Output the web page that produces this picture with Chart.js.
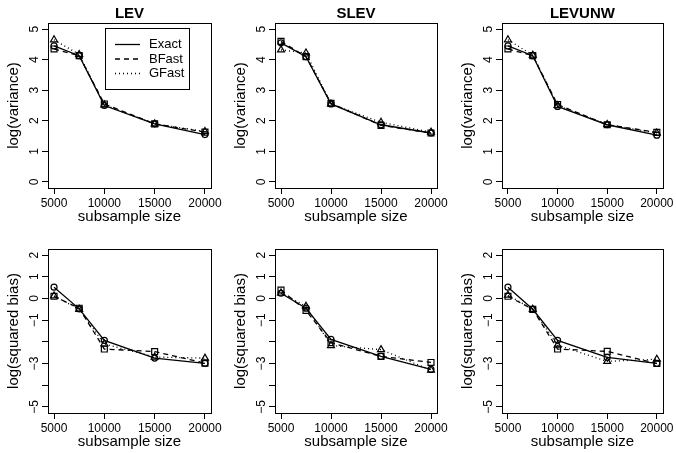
<!DOCTYPE html>
<html>
<head>
<meta charset="utf-8">
<script src="https://cdn.jsdelivr.net/npm/chart.js@4.4.1/dist/chart.umd.min.js"></script>
<style>
  html, body { margin: 0; padding: 0; background: #fff; }
  #wrap { position: relative; width: 676px; height: 453px; background: #fff; }
  #wrap canvas { position: absolute; left: 0; top: 0; }
</style>
</head>
<body>
<div id="wrap"></div>
<script>
// subsample sizes (x) and axis ticks
const sizes = [5000, 7500, 10000, 15000, 20000];
const xTicks = [5000, 10000, 15000, 20000];
const varTicks = [0, 1, 2, 3, 4, 5];
const varTickLabels = ['0', '1', '2', '3', '4', '5'];
const biasTicks = [-5, -4, -3, -2, -1, 0, 1, 2];
const biasTickLabels = ['\u22125', '', '\u22123', '', '\u22121', '0', '1', '2'];

const seriesNames = ['Exact', 'BFast', 'GFast'];

// log(variance)
const levVarExact = [4.45, 4.13, 2.50, 1.90, 1.55];
const levVarBFast = [4.35, 4.13, 2.55, 1.90, 1.63];
const levVarGFast = [4.65, 4.17, 2.52, 1.90, 1.65];

const slevVarExact = [4.55, 4.10, 2.55, 1.87, 1.60];
const slevVarBFast = [4.60, 4.10, 2.57, 1.85, 1.60];
const slevVarGFast = [4.32, 4.22, 2.55, 1.95, 1.63];

const levunwVarExact = [4.45, 4.13, 2.47, 1.87, 1.53];
const levunwVarBFast = [4.35, 4.13, 2.53, 1.87, 1.62];
const levunwVarGFast = [4.65, 4.15, 2.50, 1.88, 1.60];

// log(squared bias)
const levBiasExact = [0.52, -0.48, -1.93, -2.75, -2.99];
const levBiasBFast = [0.10, -0.45, -2.33, -2.45, -2.98];
const levBiasGFast = [0.12, -0.50, -2.10, -2.70, -2.75];

const slevBiasExact = [0.24, -0.45, -1.89, -2.67, -3.27];
const slevBiasBFast = [0.39, -0.55, -2.04, -2.67, -2.95];
const slevBiasGFast = [0.25, -0.36, -2.17, -2.36, -3.30];

const levunwBiasExact = [0.52, -0.50, -1.93, -2.72, -2.99];
const levunwBiasBFast = [0.10, -0.50, -2.33, -2.44, -3.00];
const levunwBiasGFast = [0.15, -0.50, -2.15, -2.90, -2.80];

const FONT = '"Liberation Sans", Arial, Helvetica, sans-serif';
const W = 676, H = 453;
const X_AXIS_H = 24;

// plot box edges (page pixels)
const colLeft = [48, 275, 502];
const colRight = [211, 437, 663];
const rowTop = [23, 249];
const rowBottom = [188, 413];

const lineStyles = [
  { dash: [], point: 'circle', radius: 3 },
  { dash: [5, 4], point: 'rect', radius: 4.2 },
  { dash: [1, 3], point: 'triangle', radius: 4 }
];

const panels = [
  { row: 0, col: 0, title: 'LEV', ylab: 'log(variance)', series: [levVarExact, levVarBFast, levVarGFast], legend: true },
  { row: 0, col: 1, title: 'SLEV', ylab: 'log(variance)', series: [slevVarExact, slevVarBFast, slevVarGFast] },
  { row: 0, col: 2, title: 'LEVUNW', ylab: 'log(variance)', series: [levunwVarExact, levunwVarBFast, levunwVarGFast] },
  { row: 1, col: 0, title: '', ylab: 'log(squared bias)', series: [levBiasExact, levBiasBFast, levBiasGFast] },
  { row: 1, col: 1, title: '', ylab: 'log(squared bias)', series: [slevBiasExact, slevBiasBFast, slevBiasGFast] },
  { row: 1, col: 2, title: '', ylab: 'log(squared bias)', series: [levunwBiasExact, levunwBiasBFast, levunwBiasGFast] }
];

// draws the R-style box, titles, rotated y labels and legend
const rPanel = {
  id: 'rPanel',
  afterDraw(chart, args, opts) {
    const ctx = chart.ctx;
    const a = chart.chartArea;
    const yScale = chart.scales.y;
    ctx.save();
    ctx.strokeStyle = '#000';
    ctx.fillStyle = '#000';
    ctx.lineWidth = 1;
    ctx.setLineDash([]);
    ctx.strokeRect(Math.round(a.left) + 0.5, Math.round(a.top) + 0.5,
      Math.round(a.right - a.left), Math.round(a.bottom - a.top));

    // y tick labels, parallel to the axis
    ctx.font = '12px ' + FONT;
    ctx.textAlign = 'center';
    ctx.textBaseline = 'middle';
    yScale.ticks.forEach((t, i) => {
      const py = yScale.getPixelForValue(t.value);
      ctx.save();
      ctx.translate(a.left - 13, py);
      ctx.rotate(-Math.PI / 2);
      ctx.fillText(opts.yLabels[i], 0, 0);
      ctx.restore();
    });

    // axis titles
    ctx.font = '15px ' + FONT;
    ctx.fillText('subsample size', (a.left + a.right) / 2, a.bottom + 29);
    ctx.save();
    ctx.translate(a.left - 34, (a.top + a.bottom) / 2);
    ctx.rotate(-Math.PI / 2);
    ctx.fillText(opts.ylab, 0, 0);
    ctx.restore();

    if (opts.title) {
      ctx.font = 'bold 15px ' + FONT;
      ctx.textBaseline = 'alphabetic';
      ctx.fillText(opts.title, (a.left + a.right) / 2, a.top - 5);
    }

    if (opts.legend) {
      ctx.strokeRect(105.5, 28.5, 84, 61);
      ctx.font = '13px ' + FONT;
      ctx.textAlign = 'left';
      ctx.textBaseline = 'middle';
      ctx.lineWidth = 1.3;
      const rows = [44.5, 59, 73.5];
      seriesNames.forEach((name, i) => {
        ctx.setLineDash(lineStyles[i].dash);
        ctx.beginPath();
        ctx.moveTo(115, rows[i]);
        ctx.lineTo(140, rows[i]);
        ctx.stroke();
        ctx.fillText(name, 149, rows[i]);
      });
    }
    ctx.restore();
  }
};

function makeDatasets(series) {
  return series.map((vals, i) => ({
    label: seriesNames[i],
    data: sizes.map((x, j) => ({ x: x, y: vals[j] })),
    borderColor: '#000',
    borderWidth: 1.3,
    borderDash: lineStyles[i].dash,
    tension: 0,
    fill: false,
    pointStyle: lineStyles[i].point,
    pointRadius: lineStyles[i].radius,
    pointBorderColor: '#000',
    pointBackgroundColor: 'rgba(0,0,0,0)',
    pointBorderWidth: 1.2
  }));
}

document.addEventListener('DOMContentLoaded', () => {
  const wrap = document.getElementById('wrap');

  panels.forEach(p => {
    const canvas = document.createElement('canvas');
    canvas.width = W;
    canvas.height = H;
    canvas.style.width = W + 'px';
    canvas.style.height = H + 'px';
    wrap.appendChild(canvas);

    const isVar = p.row === 0;
    const yTicks = isVar ? varTicks : biasTicks;
    const yMin = yTicks[0], yMax = yTicks[yTicks.length - 1];
    const yPad = (yMax - yMin) * 0.04;
    const xPad = (sizes[sizes.length - 1] - sizes[0]) * 0.04;

    new Chart(canvas.getContext('2d'), {
      type: 'line',
      data: { datasets: makeDatasets(p.series) },
      options: {
        responsive: false,
        animation: false,
        events: [],
        layout: {
          padding: {
            left: colLeft[p.col],
            right: W - colRight[p.col],
            top: rowTop[p.row],
            bottom: H - rowBottom[p.row] - X_AXIS_H
          }
        },
        plugins: {
          legend: { display: false },
          tooltip: { enabled: false },
          rPanel: {
            title: p.title,
            ylab: p.ylab,
            yLabels: isVar ? varTickLabels : biasTickLabels,
            legend: !!p.legend
          }
        },
        scales: {
          x: {
            type: 'linear',
            min: sizes[0] - xPad,
            max: sizes[sizes.length - 1] + xPad,
            afterFit: s => { s.height = X_AXIS_H; },
            afterBuildTicks: s => { s.ticks = xTicks.map(v => ({ value: v })); },
            grid: { drawOnChartArea: false, drawTicks: true, tickLength: 6, color: '#000' },
            border: { display: false },
            ticks: {
              padding: 2,
              color: '#000',
              autoSkip: false,
              maxRotation: 0,
              font: { family: FONT, size: 12 },
              callback: v => String(v)
            }
          },
          y: {
            type: 'linear',
            min: yMin - yPad,
            max: yMax + yPad,
            afterFit: s => { s.width = 0; },
            afterBuildTicks: s => { s.ticks = yTicks.map(v => ({ value: v })); },
            grid: { drawOnChartArea: false, drawTicks: true, tickLength: 6, color: '#000' },
            border: { display: false },
            ticks: { display: false }
          }
        }
      },
      plugins: [rPanel]
    });
  });
});
</script>
</body>
</html>
